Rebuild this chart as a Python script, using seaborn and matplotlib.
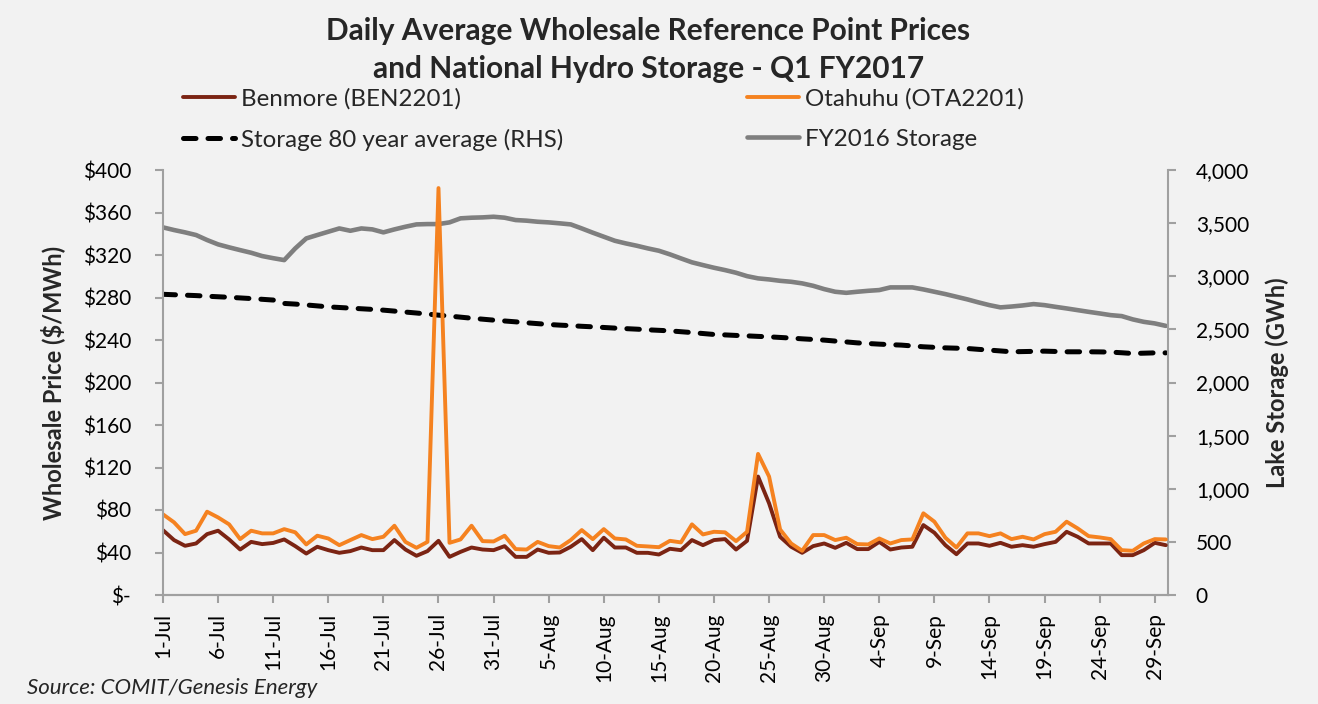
import matplotlib
matplotlib.use("Agg")
import matplotlib.pyplot as plt
import seaborn as sns
import pandas as pd
from matplotlib.lines import Line2D
from matplotlib.ticker import FuncFormatter

# days 1-Jul .. 30-Sep 2016
dates = pd.date_range("2016-07-01", "2016-09-30", freq="D")
day_idx = list(range(len(dates)))
tick_pos = list(range(0, len(dates), 5))
tick_labels = [f"{dates[i].day}-{dates[i].strftime('%b')}" for i in tick_pos]

# $/MWh
benmore = [61, 51.7, 46.3, 48.5, 57.3, 60.5, 52.3, 42.8, 50, 47.9, 49, 52.3, 46, 39, 45.4, 42.2,
           39.7, 41.3, 44.7, 42.2, 42.2, 51.7, 42.8, 36.9, 41.3, 51, 35.9, 40.6, 44.7, 42.8, 42.2,
           46, 35.9, 35.9, 42.8, 39.7, 40, 45.4, 52.6, 42.2, 53.9, 44.7, 44.7, 39.7, 39.7, 38.1,
           43.5, 42.2, 51.7, 46.9, 51.7, 52.6, 42.8, 51, 111.5, 86.3, 54.8, 45.4, 39.7, 46, 48.5,
           44.4, 49.1, 43.2, 43.2, 50, 42.8, 44.7, 45.4, 65.8, 58.6, 46.9, 38.4, 48.5, 48.5, 46.3,
           49.1, 45.4, 46.9, 45.4, 47.9, 50, 59.5, 54.8, 48.5, 48.5, 48.5, 37.5, 37.5, 42.2, 49.1,
           46.9]
otahuhu = [75.9, 68.4, 57.3, 60.5, 78.4, 73, 66.5, 52.6, 60.5, 58, 58, 62, 59, 47.6, 55.8, 53.2,
           46.9, 51.7, 56.4, 52.6, 54.8, 65.2, 50, 44.4, 50, 383, 49.1, 52.3, 65.2, 50.7, 50.4,
           55.8, 43.2, 42.8, 50, 46, 44.7, 51.7, 61.1, 52.6, 62, 53.2, 52.3, 46.3, 45.7, 45,
           51, 49.5, 66.5, 57, 59.5, 59, 50.7, 59.5, 132.8, 111.5, 61.7, 48.5, 41.6, 56.4, 56.4,
           51.7, 53.9, 47.9, 47.6, 53.2, 48.5, 51.7, 52.3, 76.9, 69, 53.9, 44.7, 58, 58, 55.4,
           58, 52.6, 54.8, 52.3, 57.3, 59.5, 69, 62.7, 55.4, 54.2, 52.6, 42.2, 41.6, 48.5, 52.6,
           52.3]

# GWh
storage_avg = [2830, 2826, 2822, 2818, 2812, 2807, 2802, 2796, 2790, 2783, 2776,
               2744, 2738, 2730, 2721, 2712, 2706, 2700, 2694, 2688, 2681,
               2672, 2663, 2654, 2644, 2634, 2625, 2615, 2605, 2596, 2587,
               2579, 2571, 2562, 2554, 2546, 2540, 2535, 2529, 2524, 2518,
               2512, 2507, 2502, 2496, 2491, 2486, 2478, 2470, 2461, 2452,
               2448, 2443, 2439, 2434, 2430, 2424, 2418, 2411, 2405, 2399,
               2390, 2382, 2373, 2367, 2361, 2356, 2352, 2344, 2336, 2331,
               2326, 2323, 2320, 2312, 2305, 2297, 2289, 2291, 2293, 2295,
               2292, 2289, 2289, 2289, 2288, 2286, 2280, 2273, 2276, 2279, 2279]
storage_fy16 = [3460, 3435, 3413, 3388, 3341, 3300, 3272, 3246, 3221, 3190, 3170, 3152, 3262,
                3356, 3388, 3419, 3450, 3428, 3450, 3441, 3413, 3441, 3466, 3488, 3491, 3491,
                3507, 3545, 3551, 3554, 3560, 3551, 3529, 3523, 3513, 3507, 3498, 3488, 3450,
                3410, 3372, 3334, 3309, 3287, 3262, 3240, 3206, 3168, 3131, 3105, 3080, 3058,
                3033, 3001, 2980, 2970, 2957, 2948, 2933, 2910, 2879, 2854, 2844, 2854, 2863,
                2870, 2895, 2895, 2895, 2876, 2854, 2832, 2807, 2782, 2754, 2728, 2707, 2715,
                2725, 2738, 2728, 2712, 2697, 2681, 2665, 2650, 2634, 2625, 2594, 2571, 2556,
                2533]

bg = "#F2F2F2"
c_ben = "#7B2413"
c_ota = "#F58220"
c_fy16 = "#7F7F7F"
c_axis = "#A0A0A0"

sns.set_theme(style="white")
plt.rcParams["font.family"] = ["Lato", "DejaVu Sans"]

fig = plt.figure(figsize=(13.18, 7.04), dpi=100, facecolor=bg)
ax = fig.add_axes([163 / 1318, 1 - 595 / 704, (1168 - 163) / 1318, (595 - 170) / 704])
ax2 = ax.twinx()
ax.set_zorder(ax2.get_zorder() + 1)
ax.patch.set_visible(False)
ax2.set_facecolor(bg)

# storage (right axis)
sns.lineplot(x=day_idx, y=storage_avg, ax=ax2, color="black", linewidth=3.6,
             linestyle=(0, (2.5, 2.4)), dash_capstyle="round")
sns.lineplot(x=day_idx, y=storage_fy16, ax=ax2, color=c_fy16, linewidth=3.3)

# prices (left axis)
sns.lineplot(x=day_idx, y=benmore, ax=ax, color=c_ben, linewidth=2.8)
sns.lineplot(x=day_idx, y=otahuhu, ax=ax, color=c_ota, linewidth=2.8)

ax.set_xlim(0, 91.2)
ax.set_ylim(0, 400)
ax2.set_ylim(0, 4000)
ax.set_yticks(range(0, 401, 40))
ax2.set_yticks(range(0, 4001, 500))
ax.yaxis.set_major_formatter(FuncFormatter(lambda v, p: "$-" if v == 0 else f"${v:.0f}"))
ax2.yaxis.set_major_formatter(FuncFormatter(lambda v, p: f"{v:,.0f}"))
ax.set_xticks(tick_pos)
ax.set_xticklabels(tick_labels, rotation=90)

for a in (ax, ax2):
    a.set_xlabel("")
    for s in a.spines.values():
        s.set_color(c_axis)
        s.set_linewidth(1.5)
    a.spines["top"].set_visible(False)
    a.tick_params(length=6, width=1.5, color=c_axis, labelsize=15, labelcolor="black")
ax.spines["right"].set_visible(False)
ax2.spines["left"].set_visible(False)
ax.tick_params(axis="y", pad=17)
ax2.tick_params(axis="y", pad=14)
ax.tick_params(axis="x", pad=7)
ax.tick_params(left=True, bottom=True)
ax2.tick_params(right=True)

ax.set_ylabel("Wholesale Price ($/MWh)", fontsize=17, fontweight="bold", labelpad=13)
ax2.set_ylabel("Lake Storage (GWh)", fontsize=17, fontweight="bold", labelpad=12, rotation=90)

fig.text(0.492, 1 - 50 / 704, "Daily Average Wholesale Reference Point Prices\nand National Hydro Storage - Q1 FY2017",
         ha="center", va="center", fontsize=21.5, fontweight="bold", linespacing=1.4)

handles = [Line2D([], [], color=c_ben, lw=2.8),
           Line2D([], [], color="black", lw=3.6, linestyle=(0, (2.5, 2.4)), dash_capstyle="round"),
           Line2D([], [], color=c_ota, lw=2.8),
           Line2D([], [], color=c_fy16, lw=3.3)]
labels = ["Benmore (BEN2201)", "Storage 80 year average (RHS)", "Otahuhu (OTA2201)", "FY2016 Storage"]
fig.legend(handles, labels, ncol=2, loc="upper left", bbox_to_anchor=(173 / 1318, 1 - 78 / 704),
           frameon=False, fontsize=17.4, handlelength=2.15, handletextpad=0.25,
           columnspacing=7.6, labelspacing=0.81, borderaxespad=0)

fig.text(27 / 1318, 1 - 694 / 704, "Source: COMIT/Genesis Energy", fontsize=16, style="italic",
         ha="left", va="baseline")

fig.savefig("out.png", dpi=100, facecolor=bg)
